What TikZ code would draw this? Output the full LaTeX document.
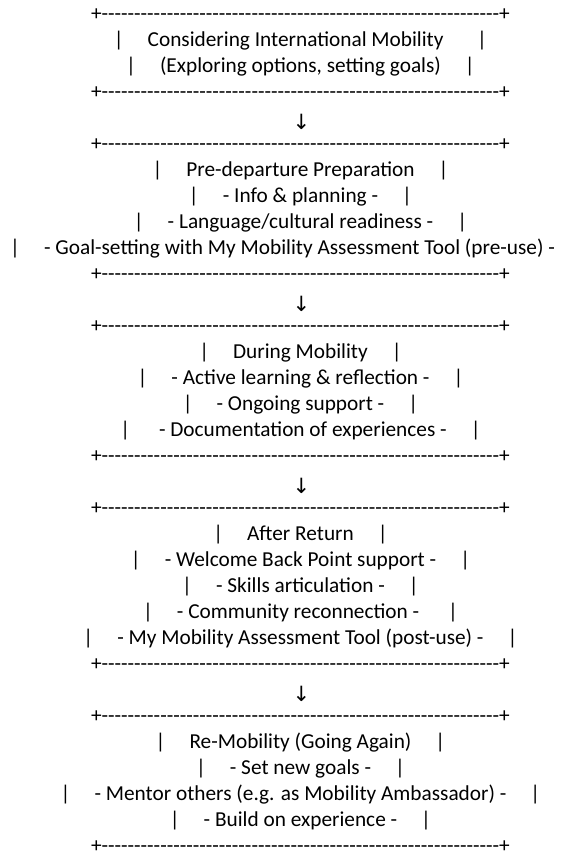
\documentclass[tikz,border=0pt]{standalone}
\usepackage{fontspec}
% hyphens must stay hyphens in the rule lines, so no TeX ligatures
\setmainfont{Carlito}[Ligatures=TeXOff]
\newfontfamily\arrowfont{DejaVu Sans}
% one box border: a plus, 61 hyphens, a plus
\newcommand\dashten{----------}
\newcommand\boxrule{+\dashten\dashten\dashten\dashten\dashten\dashten-+}
\begin{document}
\begin{tikzpicture}[x=1pt,y=-1pt,
  row/.style={anchor=base,inner sep=0pt,font=\fontsize{21.3}{26}\selectfont},
  rowleft/.style={row,anchor=base west},
  downarrow/.style={anchor=center,inner sep=0pt,font=\arrowfont\fontsize{21}{24}\selectfont}]
\useasboundingbox (0,0) rectangle (585,855);
\def\cx{300.5}
% stage 1
\node[row] (row1)  at (\cx,20)  {\boxrule};
\node[row] (row2)  at (\cx,46)  {|~~~~~Considering International Mobility~~~~~~~|};
\node[row] (row3)  at (\cx,72)  {|~~~~~(Exploring options, setting goals)~~~~~|};
\node[row] (row4)  at (\cx,98)  {\boxrule};
\node[downarrow] (row5) at (301.5,122) {↓};
% stage 2
\node[row] (row6)  at (\cx,150) {\boxrule};
\node[row] (row7)  at (\cx,176) {|~~~~~Pre-departure Preparation~~~~~|};
\node[row] (row8)  at (\cx,202) {|~~~~~- Info \& planning -~~~~~|};
\node[row] (row9)  at (\cx,228) {|~~~~~- Language/cultural readiness -~~~~~|};
\node[rowleft] (row10) at (10,254) {|~~~~~- Goal-setting with My Mobility Assessment Tool (pre-use) -};
\node[row] (row11) at (\cx,280) {\boxrule};
\node[downarrow] (row12) at (301.5,304) {↓};
% stage 3
\node[row] (row13) at (\cx,332) {\boxrule};
\node[row] (row14) at (\cx,358) {|~~~~~During Mobility~~~~~|};
\node[row] (row15) at (\cx,384) {|~~~~~- Active learning \& reflection -~~~~~|};
\node[row] (row16) at (\cx,410) {|~~~~~- Ongoing support -~~~~~|};
\node[row] (row17) at (\cx,436) {|~~~~~~- Documentation of experiences -~~~~~|};
\node[row] (row18) at (\cx,462) {\boxrule};
\node[downarrow] (row19) at (301.5,486) {↓};
% stage 4
\node[row] (row20) at (\cx,514) {\boxrule};
\node[row] (row21) at (\cx,540) {|~~~~~After Return~~~~~|};
\node[row] (row22) at (\cx,566) {|~~~~~- Welcome Back Point support -~~~~~|};
\node[row] (row23) at (\cx,592) {|~~~~~- Skills articulation -~~~~~|};
\node[row] (row24) at (\cx,618) {|~~~~~- Community reconnection -~~~~~~|};
\node[row] (row25) at (\cx,644) {|~~~~~- My Mobility Assessment Tool (post-use) -~~~~~|};
\node[row] (row26) at (\cx,670) {\boxrule};
\node[downarrow] (row27) at (301.5,694) {↓};
% stage 5
\node[row] (row28) at (\cx,722) {\boxrule};
\node[row] (row29) at (\cx,748) {|~~~~~Re-Mobility (Going Again)~~~~~|};
\node[row] (row30) at (\cx,774) {|~~~~~- Set new goals -~~~~~|};
\node[row] (row31) at (\cx,800) {|~~~~~- Mentor others (e.g. as Mobility Ambassador) -~~~~~|};
\node[row] (row32) at (\cx,826) {|~~~~~- Build on experience -~~~~~|};
\node[row] (row33) at (\cx,852) {\boxrule};
\end{tikzpicture}
\end{document}
